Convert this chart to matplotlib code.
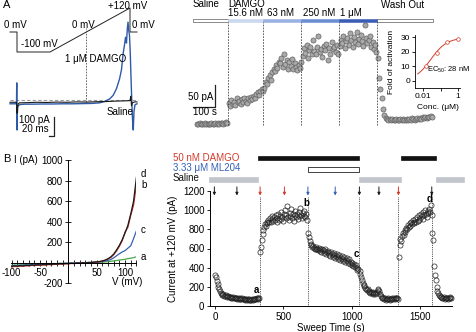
import numpy as np
import matplotlib.pyplot as plt
from matplotlib.patches import Rectangle

plt.rcParams['font.family'] = ['Liberation Sans', 'DejaVu Sans']
plt.rcParams['font.size'] = 7
plt.rcParams['axes.linewidth'] = 0.7

W, H = 477, 332

# ---- A (left): ramp protocol and ramp currents ----
protocol_t = [-28, 0, 0, 132, 452, 452, 480]          # ms
protocol_v = [0, 0, -100, -100, 120, 0, 0]            # mV

damgo_t = [-28, -4, -2, -1, 0, 1, 3, 6, 12, 30, 60, 100, 140, 180, 220, 260, 300, 330, 350, 370,
           385, 398, 410, 418, 424, 430, 434, 438, 441, 444, 447, 450, 453, 456, 459, 462, 465, 468, 472, 480]
damgo_i = [-20, -20, -18, 90, -158, -80, -40, -28, -24, -22, -22, -21, -21, -20, -20, -19, -18, -15, -8, 5,
           25, 60, 110, 160, 240, 290, 330, 300, 370, 410, 365, 340, 250, 120, 0, -100, -158, -60, -25, -20]
saline_t = [-28, -2, 0, 2, 5, 10, 40, 80, 120, 160, 200, 240, 280, 320, 360, 390, 420, 440, 452, 455,
            458, 462, 470, 480]
saline_i = [-12, -12, -70, -35, -20, -15, -14, -12, -13, -11, -12, -10, -11, -9, -8, -6, -5, -4, -3, 20,
            -30, -15, -10, -10]

# ---- A (right): current time course, 6 s sweeps ----
sweep_a = 6
a_starts = [18, 162, 324, 498, 666, 840]
a_saline = [1, 0, 2, -1, 1, 0, 2, 1, -1, 0, 1, 2, 0, 1, 3, 1, 2, 0, 2, 3, 1, 2, 4, 3]
a_c1 = [48, 42, 55, 46, 51, 44, 58, 49, 53, 45, 56, 50, 60, 52, 47, 58, 54, 62, 57, 64, 59, 68, 72, 66,
        76, 80, 74]
a_c2 = [82, 96, 90, 104, 112, 100, 118, 126, 120, 135, 128, 142, 138, 150, 130, 158, 136, 145, 126, 140,
        132, 148, 124, 138, 130, 122, 135, 128, 140]
a_c3 = [155, 172, 162, 180, 150, 168, 176, 160, 190, 166, 158, 174, 200, 164, 170, 152, 178, 168, 182, 145,
        172, 160, 186, 170, 176, 164, 180, 158]
a_c4 = [178, 192, 184, 200, 172, 188, 196, 180, 206, 190, 176, 198, 186, 210, 182, 194, 202, 188, 178, 224,
        196, 184, 190, 200, 176, 186, 170, 180, 164]
a_wash = [150, 105, 80, 58, 34, 20, 14, 12, 10, 11, 9, 12, 10, 8, 11, 9, 10, 12, 9, 11, 10, 8, 12, 10,
          11, 9, 13, 11, 10, 12, 14, 11, 13, 12, 15, 13, 16, 14, 17, 15, 18, 16]
a_segments = [a_saline, a_c1, a_c2, a_c3, a_c4, a_wash]

conc_edges = [0, 159, 320, 493, 664, 836, 1091]        # s
conc_labels = ['15.6 nM', '63 nM', '250 nM', '1 μM']
conc_colors = ['#c9d7ef', '#9ab2e2', '#6b8dd4', '#3b5db6']

# dose response inset
dr_conc = [0.0156, 0.0625, 0.25, 1.0]                   # μM
dr_fold = [10.4, 19.3, 26.4, 28.4]
ec50, hill_n, top = 0.028, 0.95, 29.5

# ---- B (left): I-V curves ----
iv_v = np.arange(-100, 121, 5)
iv_a = [-25, -22, -24, -20, -21, -18, -19, -16, -17, -14, -15, -12, -13, -10, -11, -8, -9, -6, -7, -4,
        -5, -3, -4, -1, -2, 0, -1, 1, 0, 2, 3, 4, 6, 8, 10, 14, 18, 22, 26, 30, 34, 40, 44, 50, 58]
iv_b = [-42, -36, -38, -33, -34, -30, -31, -26, -28, -24, -25, -21, -22, -18, -20, -15, -16, -12, -14, -10,
        -11, -7, -8, -4, -6, -1, -3, 2, 1, 5, 7, 11, 16, 24, 36, 52, 78, 115, 160, 215, 300, 345, 460, 560, 760]
iv_c = [-30, -26, -28, -24, -25, -21, -22, -18, -20, -16, -17, -13, -14, -11, -12, -8, -9, -6, -7, -4,
        -5, -2, -3, 0, -1, 2, 0, 3, 2, 5, 6, 9, 12, 16, 22, 32, 48, 68, 88, 105, 118, 142, 165, 235, 310]
iv_d = [-35, -30, -33, -28, -30, -25, -27, -22, -24, -20, -22, -18, -19, -15, -17, -13, -14, -10, -12, -8,
        -9, -5, -7, -3, -4, 0, -2, 3, 2, 6, 8, 12, 18, 26, 40, 58, 85, 125, 170, 225, 290, 365, 475, 600, 830]

# ---- B (right): current at +120 mV, 6 s sweeps ----
sweep_b = 6
b_starts = [0, 330, 682, 1058, 1346, 1592]
b_s1 = [330, 305, 265, 235, 200, 178, 155, 140, 128, 120, 124, 112, 106, 114, 102, 98, 106, 95, 92, 100,
        90, 88, 96, 85, 90, 82, 88, 80, 86, 78, 84, 80, 75, 82, 78, 72, 80, 70, 76, 68,
        74, 65, 72, 70, 66, 75, 70, 78, 72, 80, 76, 85, 80, 88, 82]
b_s2 = [560, 620, 690, 750, 790, 820, 850, 830, 870, 860, 900, 880, 920, 870, 910, 940, 890, 930, 900, 950,
        880, 920, 960, 900, 940, 910, 980, 930, 890, 960, 1000, 920, 950, 1040, 930, 900, 970, 940, 1010, 920,
        960, 890, 950, 990, 930, 960, 910, 980, 940, 1020, 950, 920, 970, 940, 990, 930, 960, 900]
b_s3 = [760, 720, 680, 650, 640, 620, 630, 610, 600, 620, 590, 600, 580, 610, 570, 590, 560, 600, 580, 550,
        570, 590, 540, 560, 575, 530, 550, 520, 560, 540, 510, 530, 550, 500, 520, 540, 490, 510, 530, 480,
        500, 520, 470, 490, 510, 460, 480, 500, 450, 470, 490, 440, 460, 430, 450, 420, 440, 410, 430, 400,
        380, 390]
b_s4 = [370, 340, 300, 270, 240, 225, 210, 190, 180, 165, 175, 150, 160, 140, 150, 135, 145, 130, 140, 125,
        135, 150, 165, 180, 160, 130, 110, 95, 85, 90, 75, 85, 70, 80, 72, 85, 75, 68, 80, 72,
        85, 76, 88, 80, 90, 82, 86, 80]
b_s5 = [510, 640, 700, 680, 730, 760, 740, 790, 770, 810, 800, 840, 820, 860, 830, 880, 850, 900, 870, 860,
        910, 880, 930, 890, 950, 900, 920, 960, 940, 910, 980, 950, 1000, 960, 930, 990, 970, 1010, 980, 1050,
        950]
b_s6 = [760, 690, 420, 330, 270, 200, 160, 140, 120, 110, 100, 95, 90, 85, 92, 80, 88, 82, 90, 78,
        85, 92, 86, 90]
b_segments = [b_s1, b_s2, b_s3, b_s4, b_s5, b_s6]

event_t = [330, 680, 1057, 1343, 1587]
arrow_t = [-5, 160, 330, 508, 680, 880, 1057, 1200, 1343, 1587]
arrow_c = ['k', 'k', 'r', 'r', 'b', 'b', 'k', 'k', 'r', 'k']
damgo_bars = [(317, 1054), (1359, 1618)]
ml204_bars = [(683, 1054)]
saline_bars = [(-42, 317), (1054, 1359), (1618, 1823)]
point_labels = ['a', 'b', 'c', 'd']
point_xy = [(305, 167), (665, 1073), (1037, 540), (1570, 1110)]

RED = '#d43a2c'
BLUE = '#3560b5'
palette = {'k': '#1a1a1a', 'r': RED, 'b': BLUE}


def box(x0, y0, x1, y1):
    return [x0 / W, 1 - y1 / H, (x1 - x0) / W, (y1 - y0) / H]


fig = plt.figure(figsize=(W / 100, H / 100), dpi=100)

# ======== A left ========
ax_v = fig.add_axes(box(0, 0, 160, 70))
ax_v.axis('off')
ax_v.set_xlim(-68, 572)
ax_v.set_ylim(-190, 160)
ax_v.plot(protocol_t, protocol_v, color='#222222', lw=0.7)
ax_v.text(444, 132, '+120 mV', ha='center', va='center')
ax_v.text(-8, 35, '0 mV', ha='center', va='center')
ax_v.text(264, 35, '0 mV', ha='center', va='center')
ax_v.text(504, 35, '0 mV', ha='center', va='center')
ax_v.text(90, -60, '-100 mV', ha='center', va='center')

ax_i = fig.add_axes(box(0, 0, 160, 160))
ax_i.axis('off')
ax_i.set_xlim(-68, 572)
ax_i.set_ylim(-315.8, 526.3)
ax_i.plot([-28, 484], [0, 0], color='#9a9a9a', lw=0.8, dashes=(3, 2))
zero_t = protocol_t[3] + 100 / 220 * (protocol_t[4] - protocol_t[3])
ax_i.plot([zero_t, zero_t], [-10, 379], color='#555555', lw=0.6, dashes=(2, 1.5))
ax_i.plot(damgo_t, damgo_i, color='#2d5aa8', lw=1.0)
ax_i.plot(saline_t, saline_i, color='#1a1a1a', lw=0.8)
ax_i.text(316, 216, '1 μM DAMGO', ha='center', va='center')
ax_i.text(412, -63, 'Saline', ha='center', va='center')
ax_i.plot([128, 148, 148], [-189, -189, -89], color='#222222', lw=0.9)
ax_i.text(132, -105, '100 pA', ha='right', va='center')
ax_i.text(128, -153, '20 ms', ha='right', va='center')

# ======== A right ========
ax_t = fig.add_axes(box(185, 0, 445, 135))
ax_t.axis('off')
ax_t.set_xlim(-36.4, 1145.5)
ax_t.set_ylim(-25, 281.8)
for start, vals in zip(a_starts, a_segments):
    tt = start + sweep_a * np.arange(len(vals))
    ax_t.plot(tt, vals, 'o', ms=3.7, mfc='#a9a9a9', mec='#5a5a5a', mew=0.45, ls='none')
for x in conc_edges[1:-1]:
    ax_t.plot([x, x], [-2, 232], color='#444444', lw=0.6, dashes=(2, 1.5))
ax_t.add_patch(Rectangle((conc_edges[0], 232), conc_edges[1] - conc_edges[0], 7,
                         facecolor='white', edgecolor='#777777', lw=0.6, clip_on=False))
ax_t.add_patch(Rectangle((conc_edges[5], 232), conc_edges[6] - conc_edges[5], 7,
                         facecolor='white', edgecolor='#777777', lw=0.6, clip_on=False))
for k, col in enumerate(conc_colors):
    ax_t.add_patch(Rectangle((conc_edges[k + 1], 232), conc_edges[k + 2] - conc_edges[k + 1], 7,
                             facecolor=col, edgecolor=col, lw=0.4, clip_on=False))
label_x = [159, 336, 500, 668]
for x, lab in zip(label_x, conc_labels):
    ax_t.text(x, 252, lab, ha='left', va='center')
ax_t.text(0, 273, 'Saline', ha='left', va='center')
ax_t.text(159, 273, 'DAMGO', ha='left', va='center')
ax_t.text(855, 271, 'Wash Out', ha='left', va='center')
ax_t.plot([0, 100, 100], [38.6, 38.6, 88.6], color='#222222', lw=0.9)
ax_t.text(91, 61, '50 pA', ha='right', va='center')
ax_t.text(0, 27, '100 s', ha='left', va='center')

# dose response inset
ax_in = fig.add_axes(box(415, 35, 460, 88))
ax_in.set_xscale('log')
ax_in.set_xlim(0.00349, 1.30)
ax_in.set_ylim(-4.8, 31.4)
cc = np.logspace(np.log10(0.005), 0, 60)
ax_in.plot(cc, top / (1 + (ec50 / cc) ** hill_n), color=RED, lw=0.7)
ax_in.plot(dr_conc, dr_fold, 'o', ms=2.6, mfc='white', mec=RED, mew=0.5, ls='none')
for s in ['top', 'right']:
    ax_in.spines[s].set_visible(False)
for s in ['left', 'bottom']:
    ax_in.spines[s].set_linewidth(0.6)
ax_in.set_yticks([0, 10, 20, 30])
ax_in.set_xticks([0.01, 0.1, 1])
ax_in.set_xticklabels(['0.01', '', '1'])
ax_in.minorticks_off()
ax_in.tick_params(labelsize=6, length=2, width=0.6, pad=1.5)
ax_in.set_ylabel('Fold of activation', fontsize=6)
ax_in.yaxis.set_label_coords(-0.44, 0.5)
ax_in.set_xlabel('Conc. (μM)', fontsize=6)
ax_in.xaxis.set_label_coords(0.5, -0.3)
ax_in.patch.set_alpha(0)
ax_in.text(0.017, 7.5, r'EC$_\mathregular{50}$: 28 nM', fontsize=5.4, ha='left', va='center')

# ======== B left ========
ax_iv = fig.add_axes(box(10.6, 160, 136.4, 283.3))
ax_iv.set_xlim(-102, 120)
ax_iv.set_ylim(-200, 1000)
ax_iv.spines['left'].set_position(('data', 0))
ax_iv.spines['bottom'].set_position(('data', 0))
ax_iv.spines['top'].set_visible(False)
ax_iv.spines['right'].set_visible(False)
ax_iv.patch.set_alpha(0)
ax_iv.plot(iv_v, iv_a, color='#4aa84a', lw=0.9)
ax_iv.plot(iv_v, iv_c, color=BLUE, lw=0.9)
ax_iv.plot(iv_v, iv_b, color='#c8352a', lw=0.9)
ax_iv.plot(iv_v, iv_d, color='#1a1a1a', lw=0.9)
ax_iv.set_yticks(np.arange(-200, 1001, 200))
ax_iv.set_yticklabels(['-200', '', '200', '400', '600', '800', '1000'])
ax_iv.set_xticks([-100, -50, 0, 50, 100])
ax_iv.set_xticklabels(['-100', '-50', '', '50', '100'])
ax_iv.set_xticks(np.arange(-100, 121, 10), minor=True)
ax_iv.tick_params(axis='both', which='both', direction='inout', length=4, width=0.6)
ax_iv.tick_params(axis='y', pad=2)
ax_iv.tick_params(axis='x', pad=2)
ax_iv.text(-75, 1000, 'I (pA)', ha='center', va='center')
ax_iv.text(103, -190, 'V (mV)', ha='center', va='center')
for lab, yy in zip(['d', 'b', 'c', 'a'], [863, 756, 317, 54]):
    ax_iv.text(128, yy, lab, ha='left', va='center')

# ======== B right ========
ax_s = fig.add_axes(box(210, 190.7, 451.7, 306.3))
ax_s.set_xlim(-37, 1733)
ax_s.set_ylim(0, 1200)
for s in ['top', 'right']:
    ax_s.spines[s].set_visible(False)
ax_s.vlines(event_t, 0, 1140, colors='#222222', lw=0.6, linestyles=(0, (1, 1.2)))
for start, vals in zip(b_starts, b_segments):
    tt = start + sweep_b * np.arange(len(vals))
    ax_s.plot(tt, vals, 'o', ms=3.7, mfc='none', mec='#222222', mew=0.5, ls='none', clip_on=False)
ax_s.set_yticks(np.arange(0, 1201, 200))
ax_s.set_xticks([0, 500, 1000, 1500])
ax_s.tick_params(length=2, width=0.6, pad=2)
ax_s.set_xlabel('Sweep Time (s)', labelpad=1)
ax_s.set_ylabel('Current at +120 mV (pA)')
ax_s.yaxis.set_label_coords(-0.132, 0.5)
for t, c in zip(arrow_t, arrow_c):
    ax_s.annotate('', xy=(t, 1150), xytext=(t, 1240), annotation_clip=False,
                  arrowprops=dict(arrowstyle='-|>', color=palette[c], lw=0.7,
                                  mutation_scale=4, shrinkA=0, shrinkB=0))
for lab, (x, y) in zip(point_labels, point_xy):
    ax_s.text(x, y, lab, ha='center', va='center', fontweight='bold')

tr = ax_s.get_xaxis_transform()
for x0, x1 in damgo_bars:
    ax_s.add_patch(Rectangle((x0, 1.266), x1 - x0, 0.037, transform=tr, clip_on=False,
                             facecolor='#111111', edgecolor='#111111', lw=0.5))
for x0, x1 in ml204_bars:
    ax_s.add_patch(Rectangle((x0, 1.165), x1 - x0, 0.037, transform=tr, clip_on=False,
                             facecolor='white', edgecolor='#222222', lw=0.6))
for x0, x1 in saline_bars:
    ax_s.add_patch(Rectangle((x0, 1.078), x1 - x0, 0.037, transform=tr, clip_on=False,
                             facecolor='#c2c6cc', edgecolor='#c2c6cc', lw=0.5))

fig.text(173 / W, 1 - 158 / H, '50 nM DAMGO', color=RED, va='center', ha='left')
fig.text(173 / W, 1 - 168 / H, '3.33 μM ML204', color=BLUE, va='center', ha='left')
fig.text(173 / W, 1 - 178 / H, 'Saline', color='#111111', va='center', ha='left')

fig.text(3 / W, 1 - 5 / H, 'A', fontsize=8, va='center', ha='left')
fig.text(3 / W, 1 - 159 / H, 'B', fontsize=8, va='center', ha='left')

fig.savefig('out.png', dpi=100)
